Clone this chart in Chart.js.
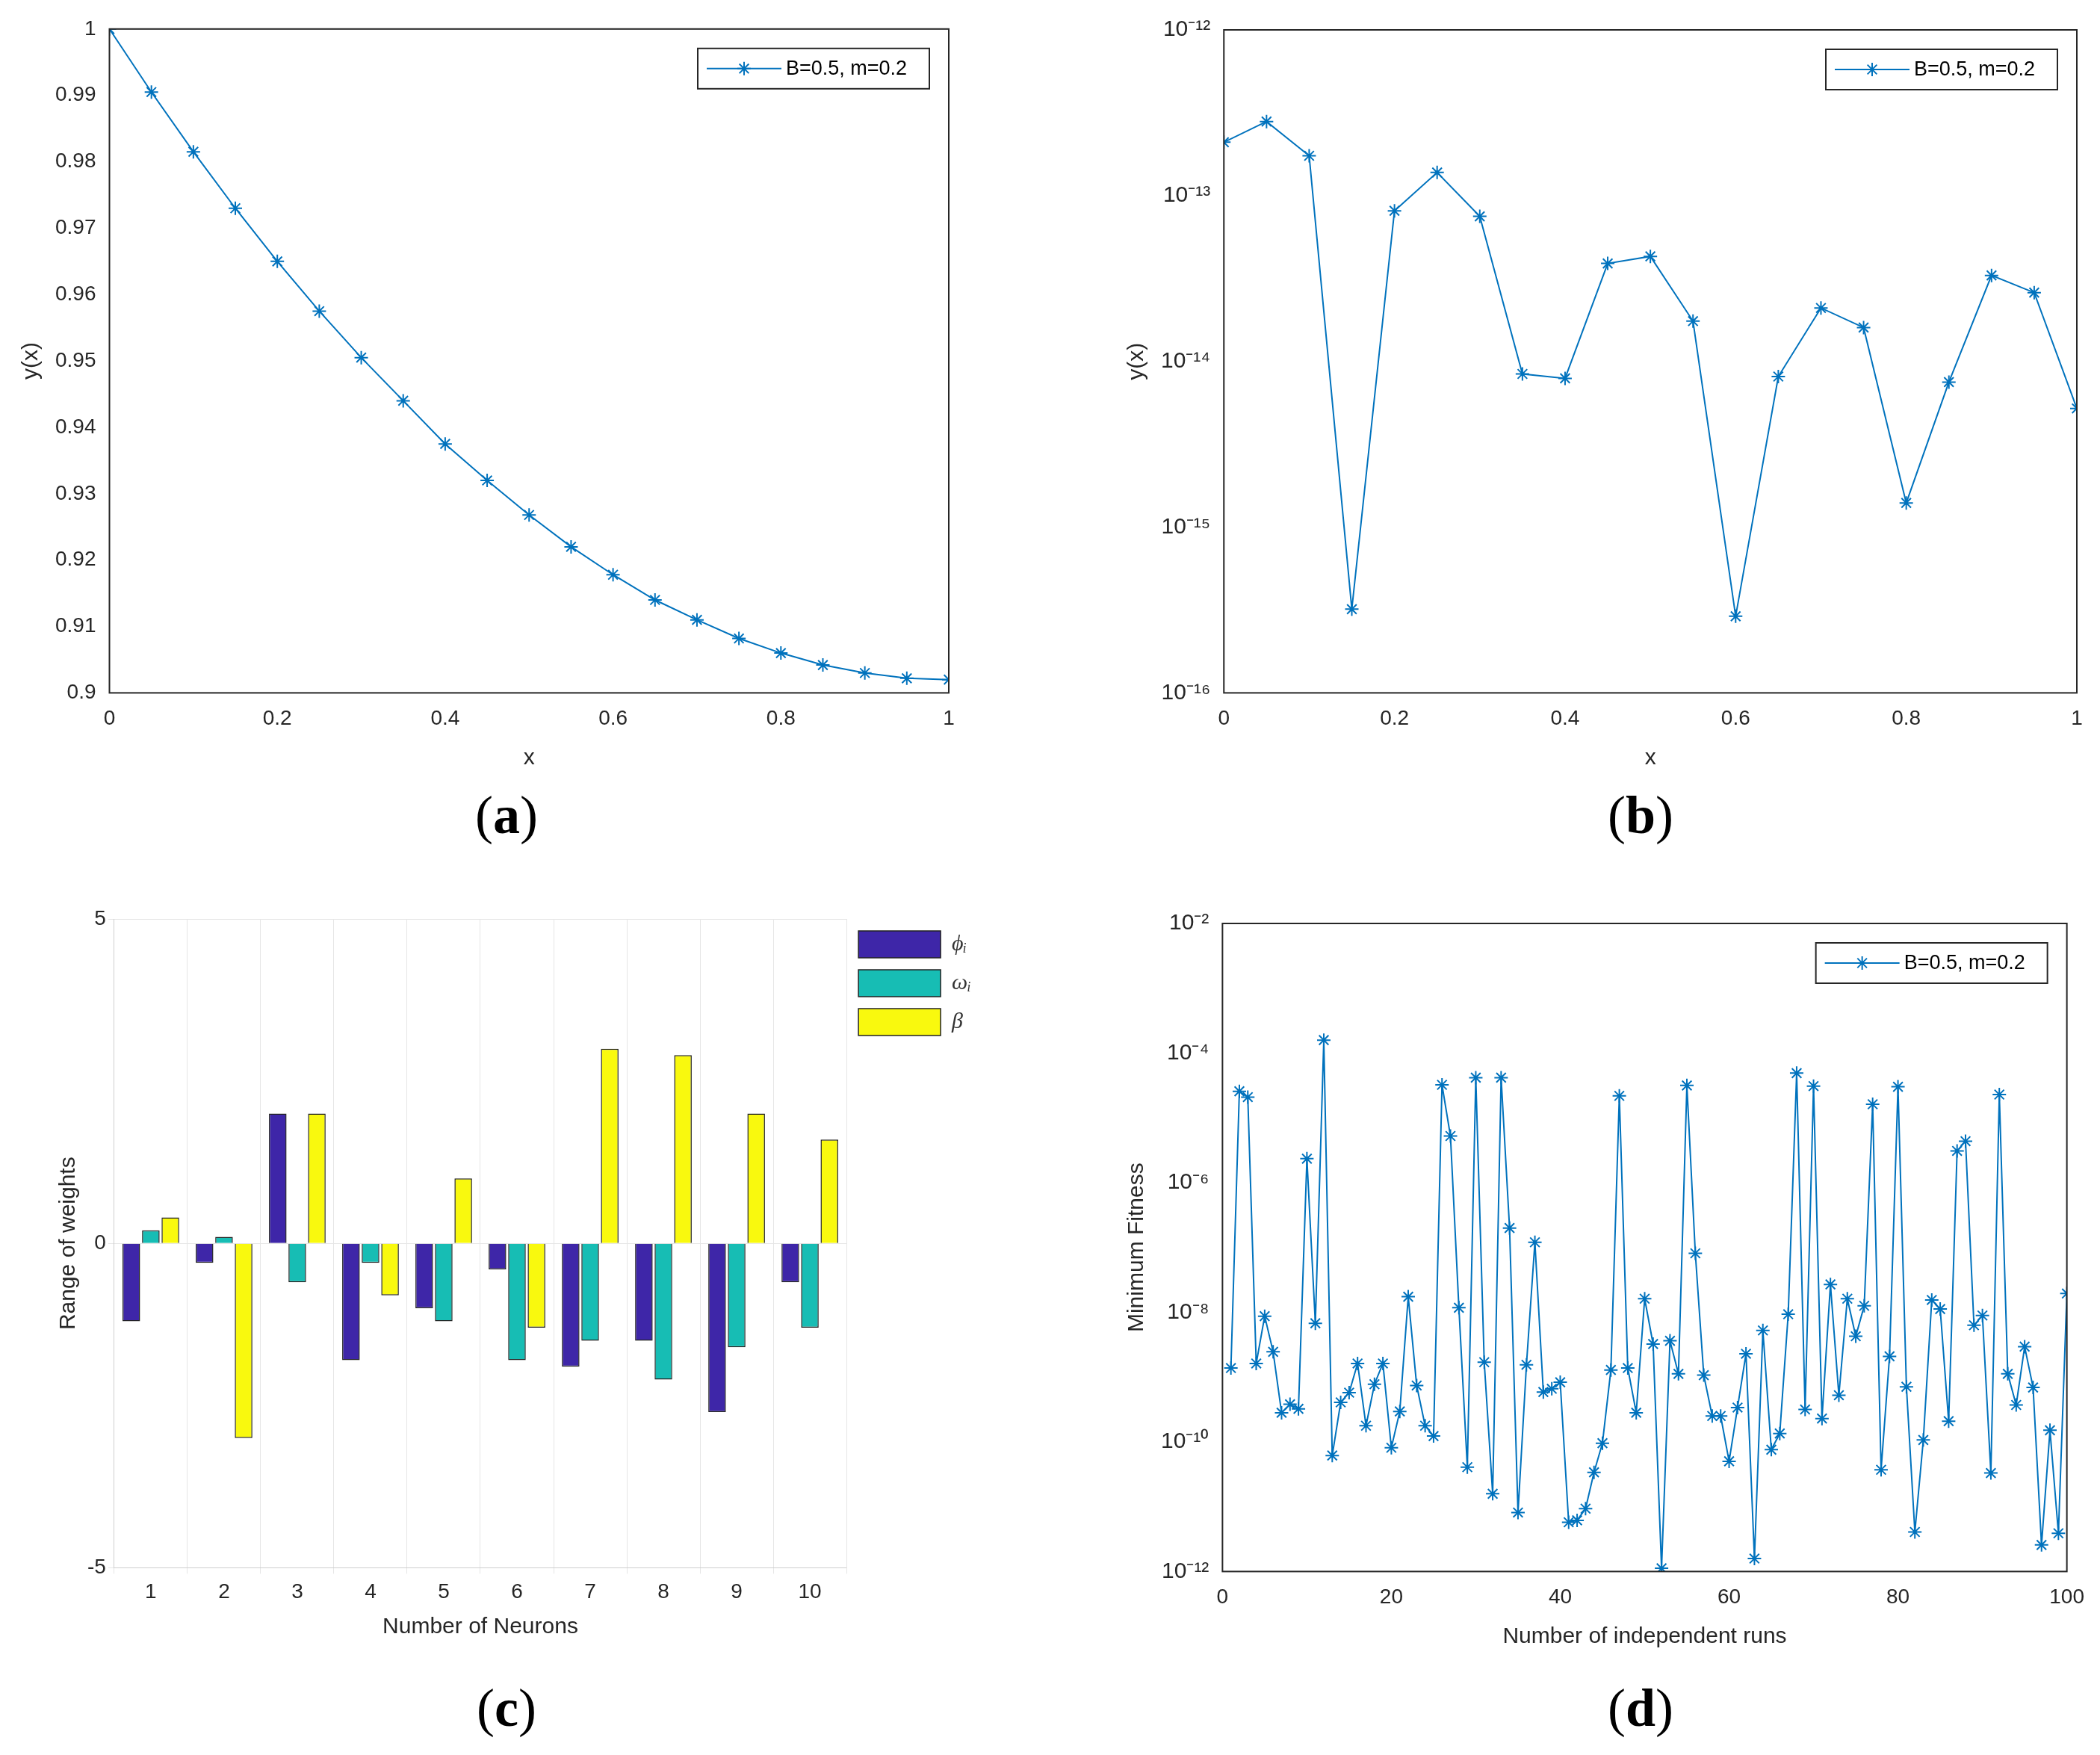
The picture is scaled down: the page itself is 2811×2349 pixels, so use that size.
<!DOCTYPE html>
<html><head><meta charset="utf-8">
<script src="https://cdn.jsdelivr.net/npm/chart.js@4/dist/chart.umd.min.js"></script>
<style>
body{margin:0;background:#fff;width:2811px;height:2349px;position:relative;overflow:hidden;font-family:"Liberation Sans",Arial,sans-serif}
.w{position:absolute}
.cap{position:absolute;font-family:"Liberation Serif","DejaVu Serif",serif;font-size:72px;transform:translateX(-50%)}
.cap b{font-weight:bold}
</style></head><body>
<div class="w" style="left:20px;top:12px;width:1290px;height:1025px"><canvas id="ca"></canvas></div>
<div class="w" style="left:1500px;top:12px;width:1300px;height:1025px"><canvas id="cb"></canvas></div>
<div class="w" style="left:60px;top:1200px;width:1260px;height:1000px"><canvas id="cc"></canvas></div>
<div class="w" style="left:1500px;top:1208px;width:1300px;height:1005px"><canvas id="cd"></canvas></div>
<div class="cap" style="left:678px;top:1050px">(<b>a</b>)</div>
<div class="cap" style="left:2196px;top:1050px">(<b>b</b>)</div>
<div class="cap" style="left:678px;top:2245px">(<b>c</b>)</div>
<div class="cap" style="left:2196px;top:2245px">(<b>d</b>)</div>
<script>
const xA = [0,0.05,0.1,0.15,0.2,0.25,0.3,0.35,0.4,0.45,0.5,0.55,0.6,0.65,0.7,0.75,0.8,0.85,0.9,0.95,1];
const yA = [1,0.9905,0.9815,0.973,0.965,0.9575,0.9505,0.944,0.9375,0.932,0.9268,0.922,0.9178,0.914,0.911,0.9082,0.906,0.9042,0.903,0.9022,0.902];
const yB = [2.1e-13,2.8e-13,1.74e-13,3.2e-16,8.1e-14,1.38e-13,7.5e-14,8.4e-15,7.9e-15,3.9e-14,4.3e-14,1.75e-14,2.9e-16,8.1e-15,2.1e-14,1.6e-14,1.4e-15,7.5e-15,3.3e-14,2.6e-14,5.2e-15];
const logD = [-8.86,-4.59,-4.68,-8.79,-8.06,-8.61,-9.55,-9.42,-9.49,-5.63,-8.17,-3.80,-10.21,-9.39,-9.24,-8.79,-9.75,-9.11,-8.79,-10.09,
-9.53,-7.76,-9.13,-9.75,-9.91,-4.49,-5.28,-7.93,-10.39,-4.38,-8.77,-10.80,-4.38,-6.70,-11.09,-8.81,-6.92,-9.23,-9.18,-9.08,
-11.24,-11.21,-11.03,-10.47,-10.02,-8.89,-4.66,-8.86,-9.55,-7.79,-8.49,-11.95,-8.44,-8.95,-4.50,-7.09,-8.97,-9.60,-9.60,-10.30,
-9.47,-8.64,-11.80,-8.28,-10.12,-9.87,-8.03,-4.31,-9.50,-4.51,-9.64,-7.57,-9.28,-7.79,-8.37,-7.90,-4.79,-10.43,-8.68,-4.52,
-9.15,-11.39,-9.97,-7.81,-7.95,-9.68,-5.51,-5.36,-8.20,-8.05,-10.48,-4.64,-8.95,-9.43,-8.53,-9.16,-11.59,-9.82,-11.41,-7.71];
const neurons = ['1','2','3','4','5','6','7','8','9','10'];
const phi   = [-1.2,-0.3,2.0,-1.8,-1.0,-0.4,-1.9,-1.5,-2.6,-0.6];
const omega = [0.2,0.1,-0.6,-0.3,-1.2,-1.8,-1.5,-2.1,-1.6,-1.3];
const beta  = [0.4,-3.0,2.0,-0.8,1.0,-1.3,3.0,2.9,2.0,1.6];
const seriesLabel = 'B=0.5, m=0.2';

const BLUE='#0072BD', FONT='"Liberation Sans", Arial, sans-serif';
Chart.defaults.font.family=FONT; Chart.defaults.font.size=28; Chart.defaults.color='#262626';
Chart.defaults.animation=false;
const sup = n => String(n).split('').map(c=>({'-':'⁻','0':'⁰','1':'¹','2':'²','3':'³','4':'⁴','5':'⁵','6':'⁶','7':'⁷','8':'⁸','9':'⁹'}[c])).join('');

const boxPlugin = {id:'box', afterDraw(ch){const a=ch.chartArea,c=ch.ctx;c.save();c.strokeStyle='#262626';c.lineWidth=2;c.strokeRect(a.left,a.top,a.right-a.left,a.bottom-a.top);c.restore();}};
const legPlugin = {id:'leg', afterDraw(ch){
  const a=ch.chartArea,c=ch.ctx; const w=310,h=54,x=a.right-w-26,y=a.top+26;
  c.save();c.fillStyle='#fff';c.fillRect(x,y,w,h);c.strokeStyle='#262626';c.lineWidth=2;c.strokeRect(x,y,w,h);
  c.strokeStyle=BLUE;c.lineWidth=2;c.beginPath();c.moveTo(x+12,y+h/2);c.lineTo(x+112,y+h/2);c.stroke();
  const mx=x+62,my=y+h/2,r=9;c.beginPath();
  for(let k=0;k<4;k++){const t=k*Math.PI/4;c.moveTo(mx-r*Math.cos(t),my-r*Math.sin(t));c.lineTo(mx+r*Math.cos(t),my+r*Math.sin(t));}
  c.stroke();c.fillStyle='#000';c.font='27px '+FONT;c.textBaseline='middle';c.fillText(ch.data.datasets[0].label,x+118,y+h/2+1);c.restore();}};

function lineDs(data){return {label:seriesLabel,data,borderColor:BLUE,backgroundColor:BLUE,borderWidth:2,pointStyle:'star',pointRadius:9,pointBorderWidth:2,pointBorderColor:BLUE,tension:0};}
function xAxis(title,min,max,step){return {type:'linear',min,max,ticks:{stepSize:step,padding:10,maxRotation:0,callback:v=>String(+v.toFixed(2))},grid:{display:false},border:{display:false},title:{display:true,text:title,font:{size:30},padding:{top:8}}};}
const logTickFont={size:30};

new Chart(document.getElementById('ca'),{type:'line',
 data:{datasets:[lineDs(xA.map((x,i)=>({x,y:yA[i]})))]},
 options:{responsive:true,maintainAspectRatio:false,layout:{padding:{right:40,top:20}},plugins:{legend:{display:false},tooltip:{enabled:false}},
  scales:{x:xAxis('x',0,1,0.2),
   y:{min:0.9,max:1,ticks:{stepSize:0.01,padding:10,callback:v=>String(+v.toFixed(2))},grid:{display:false},border:{display:false},title:{display:true,text:'y(x)',font:{size:30}}}}},
 plugins:[boxPlugin,legPlugin]});

function logTicks(step){return function(sc){sc.ticks=[];for(let e=Math.round(Math.log10(sc.min));e<=Math.round(Math.log10(sc.max));e+=step)sc.ticks.push({value:Math.pow(10,e)});};}
new Chart(document.getElementById('cb'),{type:'line',
 data:{datasets:[lineDs(xA.map((x,i)=>({x,y:yB[i]})))]},
 options:{responsive:true,maintainAspectRatio:false,layout:{padding:{right:20,top:20}},plugins:{legend:{display:false},tooltip:{enabled:false}},
  scales:{x:xAxis('x',0,1,0.2),
   y:{type:'logarithmic',min:1e-16,max:1e-12,afterBuildTicks:logTicks(1),ticks:{padding:10,font:logTickFont,callback:v=>'10'+sup(Math.round(Math.log10(v)))},grid:{display:false},border:{display:false},title:{display:true,text:'y(x)',font:{size:30}}}}},
 plugins:[boxPlugin,legPlugin]});

new Chart(document.getElementById('cd'),{type:'line',
 data:{datasets:[lineDs(logD.map((v,i)=>({x:i+1,y:Math.pow(10,v)})))]},
 options:{responsive:true,maintainAspectRatio:false,layout:{padding:{right:20,top:20}},plugins:{legend:{display:false},tooltip:{enabled:false}},
  scales:{x:xAxis('Number of independent runs',0,100,20),
   y:{type:'logarithmic',min:1e-12,max:1e-2,afterBuildTicks:logTicks(2),ticks:{padding:10,font:logTickFont,callback:v=>'10'+sup(Math.round(Math.log10(v)))},grid:{display:false},border:{display:false},title:{display:true,text:'Minimum Fitness',font:{size:30}}}}},
 plugins:[boxPlugin,legPlugin]});

const barDs=(label,data,col)=>({label,data,backgroundColor:col,borderColor:'#222',borderWidth:1.5,categoryPercentage:0.8,barPercentage:0.9});
new Chart(document.getElementById('cc'),{type:'bar',
 data:{labels:neurons,datasets:[barDs('ϕᵢ',phi,'#3E26A8'),barDs('ωᵢ',omega,'#17BDB4'),barDs('β',beta,'#F9F90E')]},
 options:{responsive:true,maintainAspectRatio:false,layout:{padding:{right:10,top:30,left:10}},
  plugins:{tooltip:{enabled:false},legend:{position:'right',align:'start',labels:{boxWidth:110,boxHeight:36,padding:16,font:{size:30,style:'italic',family:'"Liberation Serif",serif'},color:'#333'}}},
  scales:{x:{ticks:{padding:8},grid:{color:'#e6e6e6'},title:{display:true,text:'Number of Neurons',font:{size:30}}},
   y:{min:-5,max:5,ticks:{stepSize:5},grid:{color:'#e6e6e6'},title:{display:true,text:'Range of weights',font:{size:30}}}}}});
</script></body></html>
